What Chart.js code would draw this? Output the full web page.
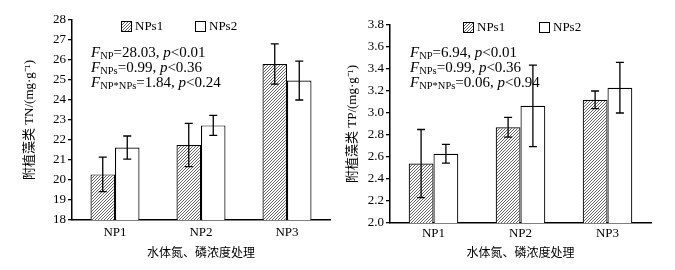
<!DOCTYPE html>
<html lang="en">
<head>
  <meta charset="UTF-8" />
  <title>附植藻类 TN / TP</title>
  <style>
    body { margin: 0; background: #fff; width: 675px; height: 270px; position: relative; overflow: hidden; }
    .panel { position: absolute; top: 0; height: 270px; }
    #left { left: 0; width: 337px; }
    #right { left: 337px; width: 338px; }
  </style>
</head>
<body>
  <div class="panel" id="left"><canvas id="tnChart" width="337" height="270"></canvas></div>
  <div class="panel" id="right"><canvas id="tpChart" width="338" height="270"></canvas></div>

  <script src="https://cdn.jsdelivr.net/npm/chart.js"></script>
  <script>
    // ---- data ----
    const categories = ['NP1', 'NP2', 'NP3'];
    const seriesNames = ['NPs1', 'NPs2'];

    const tnNPs1 = [20.28, 21.75, 25.80];
    const tnNPs1Err = [0.86, 1.08, 1.01];
    const tnNPs2 = [21.62, 22.73, 24.97];
    const tnNPs2Err = [0.58, 0.50, 0.97];

    const tpNPs1 = [2.54, 2.87, 3.12];
    const tpNPs1Err = [0.31, 0.09, 0.08];
    const tpNPs2 = [2.63, 3.065, 3.23];
    const tpNPs2Err = [0.085, 0.37, 0.23];

    const tnStats = [['NP', '28.03', '0.01'], ['NPs', '0.99', '0.36'], ['NP*NPs', '1.84', '0.24']];
    const tpStats = [['NP', '6.94', '0.01'], ['NPs', '0.99', '0.36'], ['NP*NPs', '0.06', '0.94']];

    const SERIF = "'Liberation Serif', 'Times New Roman', 'Noto Sans CJK SC', serif";
    const xTitle = '水体氮、磷浓度处理';

    // fine diagonal hatch for NPs1
    function makeHatch() {
      const c = document.createElement('canvas');
      c.width = 3; c.height = 3;
      const g = c.getContext('2d');
      g.fillStyle = '#fff';
      g.fillRect(0, 0, 3, 3);
      g.strokeStyle = '#555';
      g.lineWidth = 0.9;
      g.beginPath();
      g.moveTo(-1, 4); g.lineTo(4, -1);
      g.moveTo(-1, 1); g.lineTo(1, -1);
      g.moveTo(2, 4); g.lineTo(4, 2);
      g.stroke();
      return g.createPattern(c, 'repeat');
    }
    const hatch = makeHatch();

    // error bars, drawn at each bar through the y scale
    const errorBars = {
      id: 'errorBars',
      afterDatasetsDraw(chart) {
        const ctx = chart.ctx;
        const y = chart.scales.y;
        ctx.save();
        ctx.strokeStyle = '#000';
        ctx.lineWidth = 1.3;
        chart.data.datasets.forEach((ds, i) => {
          chart.getDatasetMeta(i).data.forEach((bar, j) => {
            const v = ds.data[j], e = ds.errors[j];
            const top = y.getPixelForValue(v + e);
            const bot = y.getPixelForValue(v - e);
            ctx.beginPath();
            ctx.moveTo(bar.x, top); ctx.lineTo(bar.x, bot);
            ctx.moveTo(bar.x - 4, top); ctx.lineTo(bar.x + 4, top);
            ctx.moveTo(bar.x - 4, bot); ctx.lineTo(bar.x + 4, bot);
            ctx.stroke();
          });
        });
        ctx.restore();
      }
    };

    // legend + ANOVA text in the plot corner
    const notes = {
      id: 'notes',
      afterDraw(chart, args, opts) {
        const ctx = chart.ctx;
        const a = chart.chartArea;
        ctx.save();
        ctx.fillStyle = '#000';
        ctx.textBaseline = 'middle';

        // legend
        const ly = a.top + opts.legendY;
        [[opts.leg1, hatch], [opts.leg2, '#fff']].forEach(([dx, fill], k) => {
          const lx = a.left + dx;
          ctx.fillStyle = fill;
          ctx.fillRect(lx, ly - 5, 10, 10);
          ctx.strokeStyle = '#000';
          ctx.lineWidth = 1;
          ctx.strokeRect(lx + 0.5, ly - 4.5, 10, 10);
          ctx.fillStyle = '#000';
          ctx.font = '13px ' + SERIF;
          ctx.fillText(seriesNames[k], lx + 14, ly + 1);
        });

        // F statistics
        opts.stats.forEach((s, k) => {
          let x = a.left + opts.textX;
          const yy = a.top + opts.textY + k * 15;
          const part = (txt, font, dy) => {
            ctx.font = font;
            ctx.fillText(txt, x, yy + (dy || 0));
            x += ctx.measureText(txt).width;
          };
          part('F', 'italic 15px ' + SERIF);
          part(s[0], '10.5px ' + SERIF, 3);
          part('=' + s[1] + ', ', '15px ' + SERIF);
          part('p', 'italic 15px ' + SERIF);
          part('<' + s[2], '15px ' + SERIF);
        });
        ctx.restore();
      }
    };

    function makeChart(id, cfg) {
      return new Chart(document.getElementById(id), {
        type: 'bar',
        data: {
          labels: categories,
          datasets: [
            { label: seriesNames[0], data: cfg.s1, errors: cfg.e1, backgroundColor: hatch, borderColor: '#000', borderWidth: 1.2 },
            { label: seriesNames[1], data: cfg.s2, errors: cfg.e2, backgroundColor: '#fff', borderColor: '#000', borderWidth: 1.2 }
          ]
        },
        options: {
          responsive: false,
          animation: false,
          categoryPercentage: 0.57,
          barPercentage: 1.0,
          layout: { padding: cfg.padding },
          plugins: {
            legend: { display: false },
            tooltip: { enabled: false },
            notes: cfg.notes
          },
          scales: {
            x: {
              grid: { display: false, drawTicks: false },
              border: { display: true, color: '#000', width: 1.5 },
              ticks: { color: '#000', padding: cfg.xTickPad, font: { family: SERIF, size: 13 } },
              title: { display: true, text: xTitle, color: '#000', padding: cfg.xTitlePad, font: { family: SERIF, size: 12 } },
              afterFit: s => { s.height = cfg.xHeight; }
            },
            y: {
              min: cfg.min,
              max: cfg.max,
              grid: { drawOnChartArea: false, drawTicks: true, tickLength: 4, color: '#000', lineWidth: 1.3 },
              border: { display: true, color: '#000', width: 1.5 },
              ticks: {
                stepSize: cfg.step, color: '#000', padding: 2,
                font: { family: SERIF, size: 13 },
                callback: v => cfg.fmt(v)
              },
              title: { display: true, text: cfg.yTitle, color: '#000', padding: cfg.yTitlePad, font: { family: SERIF, size: 13 } },
              afterFit: s => { s.width = cfg.yWidth; }
            }
          }
        },
        plugins: [errorBars, notes]
      });
    }

    makeChart('tnChart', {
      s1: tnNPs1, e1: tnNPs1Err, s2: tnNPs2, e2: tnNPs2Err,
      min: 18, max: 28, step: 1, fmt: v => String(v),
      yTitle: '附植藻类 TN/(mg·g⁻¹)',
      padding: { top: 20, right: 7, left: 0, bottom: 0 },
      yWidth: 72, yTitlePad: 22, xHeight: 50, xTitlePad: 9, xTickPad: 5,
      notes: { legendY: 6, leg1: 49, leg2: 123, textX: 19, textY: 33, stats: tnStats }
    });

    makeChart('tpChart', {
      s1: tpNPs1, e1: tpNPs1Err, s2: tpNPs2, e2: tpNPs2Err,
      min: 2.0, max: 3.8, step: 0.2, fmt: v => v.toFixed(1),
      yTitle: '附植藻类 TP/(mg·g⁻¹)',
      padding: { top: 25, right: 24, left: 0, bottom: 0 },
      yWidth: 53, yTitlePad: 8, xHeight: 47, xTitlePad: 9, xTickPad: 3,
      notes: { legendY: 2, leg1: 73, leg2: 149, textX: 20, textY: 28, stats: tpStats }
    });
  </script>
</body>
</html>
